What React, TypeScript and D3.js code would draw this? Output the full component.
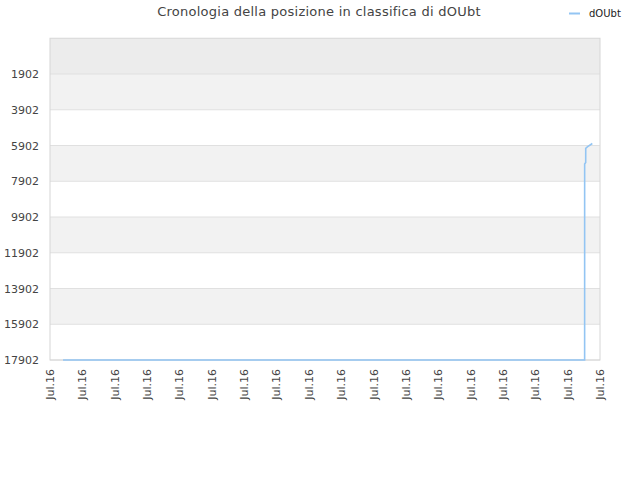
import React from "react";
import * as d3 from "d3";

const seriesName = "dOUbt";
const titleText = "Cronologia della posizione in classifica di dOUbt";
const dates = [
  "2016-07-01T09:40",
  "2016-07-17T12:36",
  "2016-07-17T12:37",
  "2016-07-17T13:24",
  "2016-07-17T13:25",
  "2016-07-17T14:36",
  "2016-07-17T18:18",
];
const ranks = [17902, 17902, 6937, 6850, 6060, 5980, 5790];
const yTicks = [1902, 3902, 5902, 7902, 9902, 11902, 13902, 15902, 17902];
const xStart = "2016-07-01T00:00";
const xEnd = "2016-07-18T00:00";

export default function App() {
  const W = 640, H = 480;
  const left = 50, right = 600, top = 38.25, bottom = 360;
  const parse = d3.timeParse("%Y-%m-%dT%H:%M");
  const x = d3.scaleTime().domain([parse(xStart)!, parse(xEnd)!]).range([left, right]);
  const y = d3.scaleLinear().domain([-98, 17902]).range([top, bottom]);
  const xTicks = d3.timeDay.range(parse(xStart)!, d3.timeDay.offset(parse(xEnd)!, 1));
  const fmt = d3.timeFormat("%b.%y");
  const pts = dates.map((d, i) => [x(parse(d)!), y(ranks[i])] as [number, number]);
  const line = d3.line()(pts) || "";
  const bands = [-98, ...yTicks];
  const bandFill = (i: number) => (i === 0 ? "#ececec" : i % 2 === 1 ? "#f2f2f2" : "#ffffff");
  const font = "DejaVu Sans, Verdana, sans-serif";
  return (
    <svg width={W} height={H} style={{ position: "absolute", left: 0, top: 0, fontFamily: font }}>
      <rect width={W} height={H} fill="#fff" />
      {bands.slice(0, -1).map((b, i) => (
        <rect key={i} x={left} y={y(b)} width={right - left} height={y(bands[i + 1]) - y(b)} fill={bandFill(i)} />
      ))}
      {yTicks.map((t) => (
        <line key={t} x1={left} x2={right} y1={y(t)} y2={y(t)} stroke="#e0e0e0" strokeWidth={1} />
      ))}
      <rect x={left} y={y(-98)} width={right - left} height={bottom - y(-98)} fill="none" stroke="#d6d6d6" strokeWidth={1} />
      {yTicks.map((t) => (
        <text key={t} x={39} y={y(t) + 4} textAnchor="end" fontSize={11} fill="#444">
          {t}
        </text>
      ))}
      {xTicks.map((t, i) => (
        <text
          key={i}
          transform={`translate(${x(t) + 4},${369}) rotate(-90)`}
          textAnchor="end"
          fontSize={11}
          fill="#444"
        >
          {fmt(t)}
        </text>
      ))}
      <path d={line} fill="none" stroke="#93c5f3" strokeWidth={1.6} />
      <text x={319} y={16} textAnchor="middle" fontSize={13} letterSpacing={0.25} fill="#444">
        {titleText}
      </text>
      <line x1={569} x2={580} y1={13.5} y2={13.5} stroke="#93c5f3" strokeWidth={2} />
      <text x={589} y={17} fontSize={10} fill="#222">
        {seriesName}
      </text>
    </svg>
  );
}
